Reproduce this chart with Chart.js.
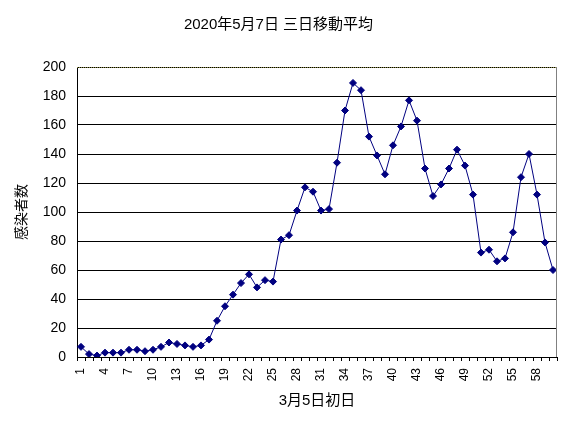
<!DOCTYPE html>
<html>
<head>
<meta charset="utf-8">
<script src="https://cdn.jsdelivr.net/npm/chart.js@4/dist/chart.umd.min.js"></script>
<style>
    html, body { margin: 0; padding: 0; background: #fff; }
    #wrap { width: 570px; height: 426px; }
</style>
</head>
<body>
<div id="wrap"><canvas id="grafica" width="570" height="426"></canvas></div>
<script>
const tituloGrafica = '2020年5月7日 三日移動平均';
const tituloEjeX = '3月5日初日';
const tituloEjeY = '感染者数';

const dias = [
    '1', '2', '3', '4', '5', '6', '7', '8', '9', '10',
    '11', '12', '13', '14', '15', '16', '17', '18', '19', '20',
    '21', '22', '23', '24', '25', '26', '27', '28', '29', '30',
    '31', '32', '33', '34', '35', '36', '37', '38', '39', '40',
    '41', '42', '43', '44', '45', '46', '47', '48', '49', '50',
    '51', '52', '53', '54', '55', '56', '57', '58', '59', '60'
];
const diasVisibles = ['1', '4', '7', '10', '13', '16', '19', '22', '25', '28', '31',
    '34', '37', '40', '43', '46', '49', '52', '55', '58'];

const promedio = [
    7, 2, 1, 3, 3, 3, 5, 5, 4, 5,
    7, 10, 9, 8, 7, 8, 12, 25, 35, 43,
    51, 57, 48, 53, 52, 81, 84, 101, 117, 114,
    101, 102, 134, 170, 189, 184, 152, 139, 126, 146,
    159, 177, 163, 130, 111, 119, 130, 143, 132, 112,
    72, 74, 66, 68, 86, 124, 140, 112, 79, 60
];

const yMin = 0;
const yMax = 200;
const yPaso = 20;

const fuente = '"Liberation Sans", "Noto Sans CJK JP", sans-serif';

// borde superior (oliva) y derecho (gris) del area de trazado, como en Excel
const bordeArea = {
    id: 'bordeArea',
    afterDatasetsDraw(chart) {
        const { ctx, chartArea: a } = chart;
        ctx.save();
        ctx.lineWidth = 1;
        ctx.strokeStyle = '#8c8c46';
        ctx.setLineDash([1, 1]);
        ctx.beginPath();
        ctx.moveTo(a.left, a.top + 0.5);
        ctx.lineTo(a.right, a.top + 0.5);
        ctx.stroke();
        ctx.setLineDash([]);
        ctx.strokeStyle = '#808080';
        ctx.beginPath();
        ctx.moveTo(a.right - 0.5, a.top);
        ctx.lineTo(a.right - 0.5, a.bottom);
        ctx.stroke();
        ctx.restore();
    }
};

const ctx = document.getElementById('grafica').getContext('2d');
new Chart(ctx, {
    type: 'line',
    data: {
        labels: dias,
        datasets: [{
            label: tituloEjeY,
            data: promedio,
            borderColor: '#000080',
            backgroundColor: '#000080',
            borderWidth: 1,
            tension: 0,
            pointStyle: 'rectRot',
            pointRadius: 3.5,
            pointBorderWidth: 1,
            pointBorderColor: '#000080',
            pointBackgroundColor: '#000080'
        }]
    },
    options: {
        responsive: false,
        animation: false,
        devicePixelRatio: 1,
        layout: { padding: { left: 0, right: 13, top: 0, bottom: 0 } },
        plugins: {
            legend: { display: false },
            tooltip: { enabled: false },
            title: {
                display: true,
                text: tituloGrafica,
                color: '#000',
                font: { family: fuente, size: 15, weight: 'normal' },
                padding: { top: 16, bottom: 33 }
            }
        },
        scales: {
            x: {
                offset: true,
                grid: {
                    offset: true,
                    drawOnChartArea: false,
                    drawTicks: true,
                    tickLength: 4,
                    color: '#000'
                },
                border: { color: '#000', width: 1 },
                ticks: {
                    autoSkip: false,
                    minRotation: 90,
                    maxRotation: 90,
                    color: '#000',
                    padding: 7,
                    font: { family: fuente, size: 12 },
                    callback(valor) {
                        const etiqueta = this.getLabelForValue(valor);
                        return diasVisibles.includes(etiqueta) ? etiqueta : '';
                    }
                },
                title: {
                    display: true,
                    text: tituloEjeX,
                    color: '#000',
                    font: { family: fuente, size: 15 },
                    padding: { top: 2, bottom: 16 }
                },
                afterFit(scale) {
                    scale.height = 69;
                    scale.paddingLeft = 0;
                    scale.paddingRight = 0;
                }
            },
            y: {
                min: yMin,
                max: yMax,
                grid: {
                    color: '#000',
                    drawTicks: false
                },
                border: { color: '#000', width: 1 },
                ticks: {
                    stepSize: yPaso,
                    color: '#000',
                    padding: 11,
                    font: { family: fuente, size: 14 }
                },
                title: {
                    display: true,
                    text: tituloEjeY,
                    color: '#000',
                    font: { family: fuente, size: 14 },
                    padding: { top: 14, bottom: 0 }
                },
                afterFit(scale) { scale.width = 77; }
            }
        }
    },
    plugins: [bordeArea]
});
</script>
</body>
</html>
